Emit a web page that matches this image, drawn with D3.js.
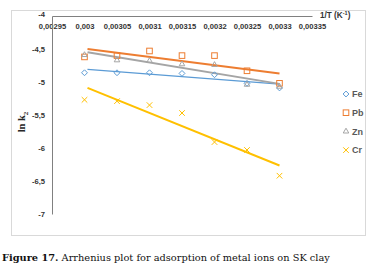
<!DOCTYPE html>
<html lang="en">
<head>
<meta charset="utf-8">
<title>Arrhenius plot</title>
<script src="https://cdnjs.cloudflare.com/ajax/libs/d3/7.8.5/d3.min.js"></script>
<style>
  body { margin: 0; background: #fff; }
  .tick text { font-family: "Liberation Sans", Arial, sans-serif; font-size: 7.6px; font-weight: bold; fill: #333; }
  .legend_text { font-family: "Liberation Sans", Arial, sans-serif; font-size: 9px; font-weight: bold; fill: #595959; }
</style>
</head>
<body>
<svg id="chart" width="372" height="269"></svg>
<script>
// data
const invT = [0.003, 0.00305, 0.0031, 0.00315, 0.0032, 0.00325, 0.0033];
const fe = [-4.86, -4.86, -4.86, -4.87, -4.89, -5.02, -5.09];
const pb = [-4.62, -4.6, -4.53, -4.6, -4.6, -4.83, -5.02];
const zn = [-4.59, -4.67, -4.68, -4.73, -4.74, -5.04, -5.07];
const cr = [-5.27, -5.29, -5.35, -5.47, -5.91, -6.03, -6.42];
const names = ["Fe", "Pb", "Zn", "Cr"];
const xTicks = [0.00295, 0.003, 0.00305, 0.0031, 0.00315, 0.0032, 0.00325, 0.0033, 0.00335];
const yTicks = [-4, -4.5, -5, -5.5, -6, -6.5, -7];

const colors = ["#5B9BD5", "#ED7D31", "#A5A5A5", "#FFC000"];
const seriesVals = [fe, pb, zn, cr];

const svg = d3.select("#chart");

// chart frame
svg.append("rect")
  .attr("x", 11.5).attr("y", 10.5).attr("width", 354).attr("height", 225)
  .attr("fill", "white").attr("stroke", "#d9d9d9");

const x = d3.scaleLinear().domain([0.00295, 0.00335]).range([52, 312]);
const y = d3.scaleLinear().domain([-7, -4]).range([214, 16]);

const fmt = d => String(+d.toFixed(5)).replace(".", ",");

// x axis across the top (at y = -4)
const xAxis = svg.append("g").attr("transform", `translate(0,${y(-4)})`)
  .call(d3.axisBottom(x).tickValues(xTicks).tickFormat(fmt).tickSize(0).tickPadding(8));
xAxis.select(".domain").attr("stroke", "#808080");

// y axis
const yAxis = svg.append("g").attr("transform", `translate(${x(0.00295)},0)`)
  .call(d3.axisLeft(y).tickValues(yTicks).tickFormat(fmt).tickSize(0).tickPadding(7));
yAxis.select(".domain").attr("stroke", "#808080");
yAxis.selectAll(".tick").filter(d => d === -4).select("text").attr("dy", "0.1em");

// axis titles
const xt = svg.append("text").attr("x", 320).attr("y", 18)
  .attr("font-family", "Liberation Sans, Arial, sans-serif").attr("font-size", 8.2)
  .attr("font-weight", "bold").attr("fill", "#333");
xt.append("tspan").text("1/T (K");
xt.append("tspan").attr("font-size", 5.5).attr("dy", -3).text("-1");
xt.append("tspan").attr("dy", 3).text(")");

const yt = svg.append("text").attr("transform", "translate(25,122) rotate(-90)")
  .attr("text-anchor", "middle")
  .attr("font-family", "Liberation Serif, Times New Roman, serif").attr("font-size", 10.5)
  .attr("font-weight", "bold").attr("fill", "#262626");
yt.append("tspan").text("ln k");
yt.append("tspan").attr("font-size", 7).attr("dy", 2.5).text("2");

// least squares trend line
function fit(vals) {
  const mx = d3.mean(invT), my = d3.mean(vals);
  let num = 0, den = 0;
  invT.forEach((t, i) => { num += (t - mx) * (vals[i] - my); den += (t - mx) * (t - mx); });
  const b = num / den, a = my - b * mx;
  const x0 = d3.min(invT), x1 = d3.max(invT);
  return [[x0, a + b * x0], [x1, a + b * x1]];
}

const markers = [
  g => g.append("path").attr("d", d3.symbol(d3.symbolDiamond2, 22)()),
  g => g.append("rect").attr("x", -2.8).attr("y", -2.8).attr("width", 5.6).attr("height", 5.6),
  g => g.append("path").attr("d", d3.symbol(d3.symbolTriangle2, 22)()),
  g => g.append("path").attr("d", d3.symbol(d3.symbolX, 22)())
];

seriesVals.forEach((vals, k) => {
  const line = fit(vals);
  svg.append("line")
    .attr("x1", x(line[0][0]) + 3).attr("y1", y(line[0][1]))
    .attr("x2", x(line[1][0])).attr("y2", y(line[1][1]))
    .attr("stroke", colors[k]).attr("stroke-width", k === 0 ? 1.2 : 2);
});

seriesVals.forEach((vals, k) => {
  svg.append("g").selectAll("g").data(vals).enter().append("g")
    .attr("transform", (d, i) => `translate(${x(invT[i])},${y(d)})`)
    .each(function () {
      markers[k](d3.select(this)).attr("fill", "none").attr("stroke", colors[k]).attr("stroke-width", 1);
    });
});

// legend
names.forEach((n, k) => {
  const ly = 94 + k * 18.7;
  const g = svg.append("g").attr("transform", `translate(346,${ly})`);
  markers[k](g).attr("fill", "none").attr("stroke", colors[k]).attr("stroke-width", 1);
  svg.append("text").attr("class", "legend_text").attr("x", 352).attr("y", ly + 3.2).text(n);
});

// caption
const cap = svg.append("text").attr("x", 2).attr("y", 261)
  .attr("font-family", "DejaVu Serif, serif").attr("font-size", 9.8).attr("fill", "#111");
cap.append("tspan").attr("font-weight", "bold").text("Figure 17.");
cap.append("tspan").text(" Arrhenius plot for adsorption of metal ions on SK clay");
</script>
</body>
</html>
